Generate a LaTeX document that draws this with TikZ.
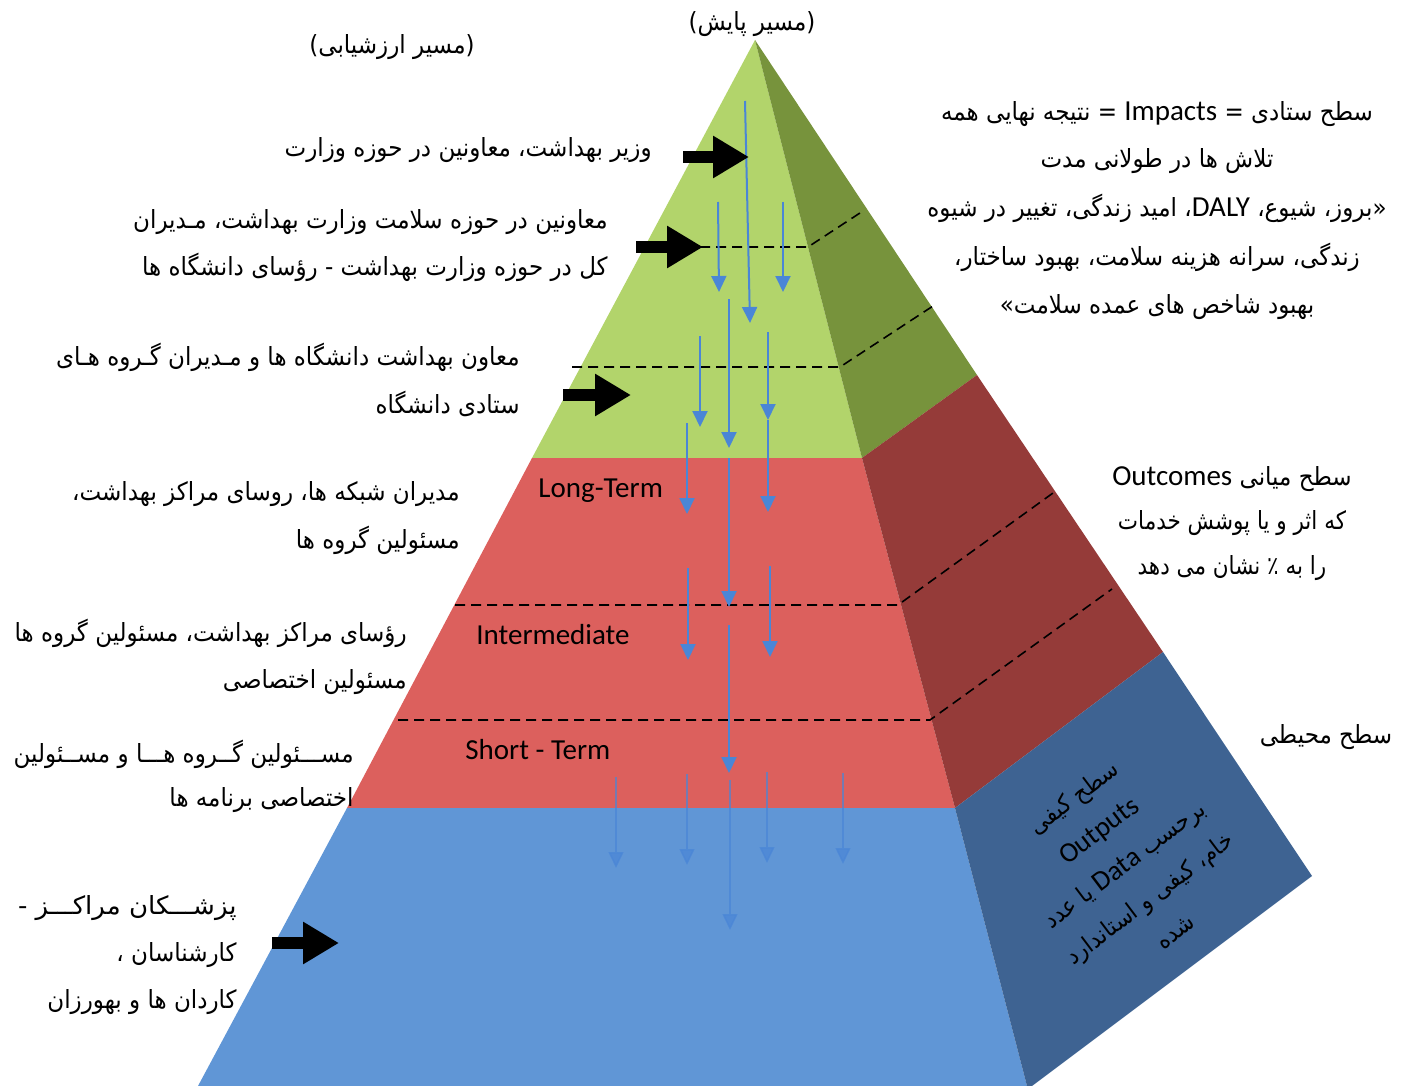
\documentclass[tikz,border=0pt]{standalone}
\usepackage{fontspec}
\usetikzlibrary{arrows.meta}
\TeXXeTstate=1
\newfontfamily\fa[Script=Arabic, FakeStretch=0.92]{DejaVu Sans}
\newfontfamily\fanarrow[Script=Arabic, FakeStretch=0.86]{DejaVu Sans}
\newfontfamily\fawide[Script=Arabic, FakeStretch=1.04]{DejaVu Sans}
\newfontfamily\lat{Carlito}
\definecolor{greenF}{HTML}{B2D46B}
\definecolor{greenS}{HTML}{77933C}
\definecolor{redF}{HTML}{DC605D}
\definecolor{redS}{HTML}{953B39}
\definecolor{blueF}{HTML}{6096D6}
\definecolor{blueS}{HTML}{3E6392}
\definecolor{arrblue}{HTML}{4A86D6}
\begin{document}
\begin{tikzpicture}[x=0.5pt,y=-0.5pt,
  fatxt/.style={font=\fa\fontsize{12.5}{15}\selectfont, inner sep=0pt},
  fanar/.style={font=\fanarrow\fontsize{12.5}{15}\selectfont, inner sep=0pt},
  fawid/.style={font=\fawide\fontsize{12.5}{15}\selectfont, inner sep=0pt},
  latxt/.style={font=\lat\fontsize{14.5}{17}\selectfont, inner sep=0pt},
  dashln/.style={draw=black, line width=0.8pt, dash pattern=on 5pt off 3pt},
  barr/.style={draw=arrblue, line width=1pt, -{Triangle[length=8pt,width=7.5pt]}},
  barrf/.style={barr, opacity=0.7, line width=0.8pt},
  blockarr/.style={draw=black, line width=6pt, -{Triangle[length=18pt,width=20pt]}}]
\useasboundingbox (0,0) rectangle (1404,1086);
% pyramid corners
\coordinate (apex) at (755,40);
\coordinate (gL) at (532,458);
\coordinate (gR) at (862,458);
\coordinate (gS) at (977,375);
\coordinate (rL) at (347,808);
\coordinate (rR) at (955,808);
\coordinate (rS) at (1163,652);
\coordinate (bL) at (198,1086);
\coordinate (bR) at (1027,1086);
\coordinate (bS) at (1312,876);
\coordinate (bB) at (1032,1086);
% faces
\fill[greenF] (apex) -- (gR) -- (gL) -- cycle;
\fill[greenS] (apex) -- (gS) -- (gR) -- cycle;
\fill[redF] (gL) -- (gR) -- (rR) -- (rL) -- cycle;
\fill[redS] (gR) -- (gS) -- (rS) -- (rR) -- cycle;
\fill[blueF] (rL) -- (rR) -- (bR) -- (bL) -- cycle;
\fill[blueS] (rR) -- (rS) -- (bS) -- (bB) -- (bR) -- cycle;
% dashed level lines
\coordinate (d1a) at (700,247); \coordinate (d1b) at (808,247); \coordinate (d1c) at (863,211);
\coordinate (d2a) at (572,367); \coordinate (d2b) at (840,367); \coordinate (d2c) at (933,306);
\coordinate (d3a) at (455,605); \coordinate (d3b) at (898,605); \coordinate (d3c) at (1053,493);
\coordinate (d4a) at (398,720); \coordinate (d4b) at (930,720); \coordinate (d4c) at (1112,589);
\draw[dashln] (d1a) -- (d1b) -- (d1c);
\draw[dashln] (d2a) -- (d2b) -- (d2c);
\draw[dashln] (d3a) -- (d3b) -- (d3c);
\draw[dashln] (d4a) -- (d4b) -- (d4c);
% blue arrows
\coordinate (a1s) at (745,101); \coordinate (a1e) at (750,323);
\coordinate (a2s) at (718,202); \coordinate (a2e) at (719,292);
\coordinate (a3s) at (783,202); \coordinate (a3e) at (783,292);
\coordinate (a4s) at (729,299); \coordinate (a4e) at (729,448);
\coordinate (a5s) at (700,336); \coordinate (a5e) at (700,427);
\coordinate (a6s) at (768,332); \coordinate (a6e) at (768,420);
\coordinate (a7s) at (687,423); \coordinate (a7e) at (687,514);
\coordinate (a8s) at (768,420); \coordinate (a8e) at (768,512);
\coordinate (a9s) at (729,458); \coordinate (a9e) at (729,607);
\coordinate (a10s) at (688,568); \coordinate (a10e) at (688,660);
\coordinate (a11s) at (770,566); \coordinate (a11e) at (770,657);
\coordinate (a12s) at (729,625); \coordinate (a12e) at (729,773);
\foreach \i in {1,...,12} {\draw[barr] (a\i s) -- (a\i e);}
\coordinate (f1s) at (616,777); \coordinate (f1e) at (616,868);
\coordinate (f2s) at (687,774); \coordinate (f2e) at (687,865);
\coordinate (f3s) at (767,772); \coordinate (f3e) at (767,863);
\coordinate (f4s) at (843,773); \coordinate (f4e) at (843,864);
\coordinate (f5s) at (730,780); \coordinate (f5e) at (730,930);
\foreach \i in {1,...,5} {\draw[barrf] (f\i s) -- (f\i e);}
% black block arrows
\coordinate (k1s) at (683,157); \coordinate (k1e) at (749,157);
\coordinate (k2s) at (636,247); \coordinate (k2e) at (703,247);
\coordinate (k3s) at (563,395); \coordinate (k3e) at (631,395);
\coordinate (k4s) at (272,943); \coordinate (k4e) at (339,943);
\foreach \i in {1,...,4} {\draw[blockarr] (k\i s) -- (k\i e);}
% level names on the front
\node[latxt, anchor=base west] (lt) at (538,497) {Long-Term};
\node[latxt, anchor=base west] (im) at (476,644) {Intermediate};
\node[latxt, anchor=base west] (st) at (465,759) {Short - Term};
% top labels
\node[fatxt, anchor=base] (ev) at (392,54) {\beginR(مسیر ارزشیابی)\endR};
\node[fatxt, anchor=base] (mo) at (752,31) {\beginR(مسیر پایش)\endR};
% left labels
\node[fatxt, anchor=base east] (t1) at (652,156) {\beginR وزیر بهداشت، معاونین در حوزه وزارت\endR};
\node[fatxt, anchor=base east] (t2a) at (608,228) {\beginR معاونین در حوزه سلامت وزارت بهداشت، مـدیران\endR};
\node[fatxt, anchor=base east] (t2b) at (608,275) {\beginR کل در حوزه وزارت بهداشت - رؤسای دانشگاه ها\endR};
\node[fatxt, anchor=base east] (t3a) at (520,365) {\beginR معاون بهداشت دانشگاه ها و مـدیران گـروه هـای\endR};
\node[fatxt, anchor=base east] (t3b) at (520,413) {\beginR ستادی دانشگاه\endR};
\node[fatxt, anchor=base east] (t4a) at (460,500) {\beginR مدیران شبکه ها، روسای مراکز بهداشت،\endR};
\node[fatxt, anchor=base east] (t4b) at (460,548) {\beginR مسئولین گروه ها\endR};
\node[fatxt, anchor=base east] (t5a) at (407,641) {\beginR رؤسای مراکز بهداشت، مسئولین گروه ها\endR};
\node[fatxt, anchor=base east] (t5b) at (407,688) {\beginR مسئولین اختصاصی\endR};
\node[fatxt, anchor=base east] (t6a) at (354,762) {\beginR مســـئولین گــروه هـــا و مســئولین\endR};
\node[fatxt, anchor=base east] (t6b) at (354,806) {\beginR اختصاصی برنامه ها\endR};
\node[fawid, anchor=base east] (t7a) at (237,914) {\beginR پزشـــکان مراکـــز -\endR};
\node[fatxt, anchor=base east] (t7b) at (237,961) {\beginR کارشناسان ،\endR};
\node[fatxt, anchor=base east] (t7c) at (237,1008) {\beginR کاردان ها و بهورزان\endR};
% right labels
\node[fatxt, anchor=base] (r1) at (1157,121) {\beginR سطح ستادی = {\lat\fontsize{14.5}{17}\selectfont Impacts} = نتیجه نهایی همه\endR};
\node[fatxt, anchor=base] (r2) at (1157,168) {\beginR تلاش ها در طولانی مدت\endR};
\node[fatxt, anchor=base] (r3) at (1157,216) {\beginR «بروز، شیوع، {\lat\fontsize{14.5}{17}\selectfont DALY}، امید زندگی، تغییر در شیوه\endR};
\node[fatxt, anchor=base] (r4) at (1157,265) {\beginR زندگی، سرانه هزینه سلامت، بهبود ساختار،\endR};
\node[fatxt, anchor=base] (r5) at (1157,313) {\beginR بهبود شاخص های عمده سلامت»\endR};
\node[fatxt, anchor=base] (o1) at (1232,485) {\beginR سطح میانی {\lat\fontsize{14.5}{17}\selectfont Outcomes}\endR};
\node[fanar, anchor=base] (o2) at (1232,529) {\beginR که اثر و یا پوشش خدمات\endR};
\node[fanar, anchor=base] (o3) at (1232,574) {\beginR را به ٪ نشان می دهد\endR};
\node[fatxt, anchor=base] (p1) at (1326,743) {\beginR سطح محیطی\endR};
% rotated label on the blue side face
\node[fatxt, rotate=37, align=center, font=\fa\fontsize{12}{21}\selectfont] (q) at (1124,864)
  {\beginR سطح کیفی\endR\\
   {\lat\fontsize{14}{21}\selectfont Outputs}\\
   \beginR برحسب {\lat\fontsize{14}{21}\selectfont Data} یا عدد\endR\\
   \beginR خام، کیفی و استاندارد\endR\\
   \beginR شده\endR};
\end{tikzpicture}
\end{document}
